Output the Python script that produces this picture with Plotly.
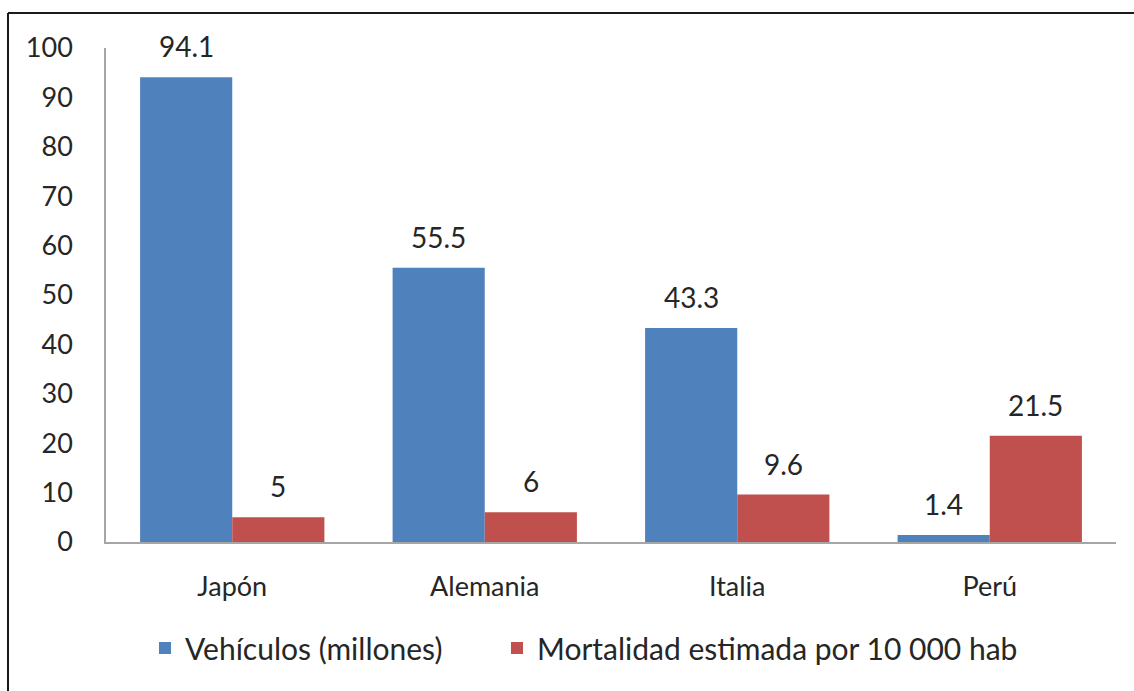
import plotly.graph_objects as go

# Country data
paises = ["Japón", "Alemania", "Italia", "Perú"]
vehiculos = [94.1, 55.5, 43.3, 1.4]
mortalidad = [5, 6, 9.6, 21.5]
etiquetas_vehiculos = ["94.1", "55.5", "43.3", "1.4"]
etiquetas_mortalidad = ["5", "6", "9.6", "21.5"]

AZUL = "#4F81BD"
ROJO = "#C0504D"
TEXTO = "#262626"
FUENTE = "Lato, 'Open Sans', sans-serif"

W, H = 1134, 691
ML, MR, MT, MB = 106, 18, 48, 149
pw = W - ML - MR
ph = H - MT - MB

fig = go.Figure()
fig.add_trace(go.Bar(x=paises, y=vehiculos, name="Vehículos (millones)",
                     marker=dict(color=AZUL, line=dict(width=0)),
                     legend="legend"))
fig.add_trace(go.Bar(x=paises, y=mortalidad, name="Mortalidad estimada por 10 000 hab",
                     marker=dict(color=ROJO, line=dict(width=0)),
                     legend="legend2"))

# value labels above each bar
bargap = 0.27
half = (1 - bargap) / 4
annotations = []
for i, (v, t) in enumerate(zip(vehiculos, etiquetas_vehiculos)):
    annotations.append(dict(x=i - half, y=v, xref="x", yref="y", text=t,
                            showarrow=False, yanchor="middle", yshift=31,
                            font=dict(size=28, color=TEXTO, family=FUENTE)))
for i, (v, t) in enumerate(zip(mortalidad, etiquetas_mortalidad)):
    annotations.append(dict(x=i + half, y=v, xref="x", yref="y", text=t,
                            showarrow=False, yanchor="middle", yshift=31,
                            font=dict(size=28, color=TEXTO, family=FUENTE)))

def px_x(p):
    return (p - ML) / pw

def px_y(p):
    return (H - MB - p) / ph

# frame around the chart (top and left edges)
shapes = [
    dict(type="line", xref="paper", yref="paper",
         x0=px_x(8), x1=px_x(W + 5), y0=px_y(13), y1=px_y(13),
         line=dict(color="#1a1a1a", width=2)),
    dict(type="line", xref="paper", yref="paper",
         x0=px_x(8), x1=px_x(8), y0=px_y(13), y1=px_y(H + 5),
         line=dict(color="#1a1a1a", width=2)),
]

leyenda = dict(orientation="h", xanchor="left", y=px_y(648), yanchor="middle",
               font=dict(size=30, color=TEXTO, family=FUENTE), itemwidth=30)

fig.update_layout(
    width=W, height=H,
    margin=dict(l=ML, r=MR, t=MT, b=MB),
    paper_bgcolor="white", plot_bgcolor="white",
    barmode="group", bargap=bargap, bargroupgap=0,
    font=dict(family=FUENTE, size=27, color=TEXTO),
    showlegend=True,
    legend=dict(leyenda, x=px_x(145)),
    legend2=dict(leyenda, x=px_x(497)),
    annotations=annotations,
    shapes=shapes,
)
fig.update_xaxes(showline=True, linecolor="#A6A6A6", linewidth=1.5,
                 ticks="", showgrid=False, tickfont=dict(size=27),
                 ticklabelstandoff=20)
fig.update_yaxes(range=[0, 100], dtick=10, showline=True, linecolor="#A6A6A6",
                 linewidth=1.5, ticks="", showgrid=False, zeroline=False,
                 tickfont=dict(size=27), ticklabelstandoff=26)

fig.write_html("out.html")
